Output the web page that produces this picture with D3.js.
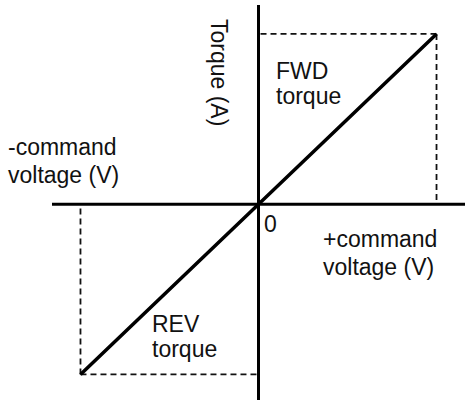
<!DOCTYPE html>
<html>
<head>
<meta charset="utf-8">
<script src="https://cdn.jsdelivr.net/npm/d3@7"></script>
<style>
  body { margin: 0; background: #fff; }
  svg { display: block; }
  text { font-family: "Liberation Sans", Arial, sans-serif; font-size: 23px; fill: #111; }
</style>
</head>
<body>
<div id="chart"></div>
<script>
// command voltage vs torque (normalised, -1 .. +1)
var commandVoltage = [-1, 0, 1]
var torque = [-1, 0, 1]
var axisExtentX = [-1.16, 1.16]
var axisExtentY = [-1.15, 1.17]
var limits = [{ v: -1, t: -1 }, { v: 1, t: 1 }]

var width = 467, height = 403

var svg = d3.select("#chart")
  .append("svg")
  .attr("width", width)
  .attr("height", height)

var X = d3.scaleLinear().domain(axisExtentX).range([52, 465])
var Y = d3.scaleLinear().domain(axisExtentY).range([400, 5])

// dashed guides to the saturation points
limits.forEach(function (d) {
  svg.append("line")
    .attr("x1", X(d.v)).attr("y1", Y(d.t))
    .attr("x2", X(0)).attr("y2", Y(d.t))
    .attr("stroke", "#111").attr("stroke-width", 1.8)
    .attr("stroke-dasharray", "6,4")
  svg.append("line")
    .attr("x1", X(d.v)).attr("y1", Y(d.t))
    .attr("x2", X(d.v)).attr("y2", Y(0))
    .attr("stroke", "#111").attr("stroke-width", 1.8)
    .attr("stroke-dasharray", "6,4")
})

// axes
svg.append("line")
  .attr("x1", X(axisExtentX[0])).attr("x2", X(axisExtentX[1]))
  .attr("y1", Y(0)).attr("y2", Y(0))
  .attr("stroke", "#000").attr("stroke-width", 3)
svg.append("line")
  .attr("x1", X(0)).attr("x2", X(0))
  .attr("y1", Y(axisExtentY[0])).attr("y2", Y(axisExtentY[1]))
  .attr("stroke", "#000").attr("stroke-width", 3)

// torque line
var pts = commandVoltage.map(function (v, i) { return [v, torque[i]] })
svg.append("path")
  .datum(pts)
  .attr("fill", "none")
  .attr("stroke", "#000")
  .attr("stroke-width", 3.5)
  .attr("d", d3.line()
    .x(function (d) { return X(d[0]) })
    .y(function (d) { return Y(d[1]) }))

function label(x, y, lines, lh) {
  var t = svg.append("text").attr("x", x).attr("y", y)
  lines.forEach(function (s, i) {
    t.append("tspan").attr("x", x).attr("dy", i === 0 ? 0 : lh).text(s)
  })
}

label(276, 79, ["FWD", "torque"], 25)
label(152, 332, ["REV", "torque"], 25)
label(8, 155, ["-command", "voltage (V)"], 28)
label(323, 247, ["+command", "voltage (V)"], 28)
label(264, 232, ["0"], 0)

svg.append("text")
  .attr("transform", "translate(211,19) rotate(90)")
  .text("Torque (A)")
</script>
</body>
</html>
